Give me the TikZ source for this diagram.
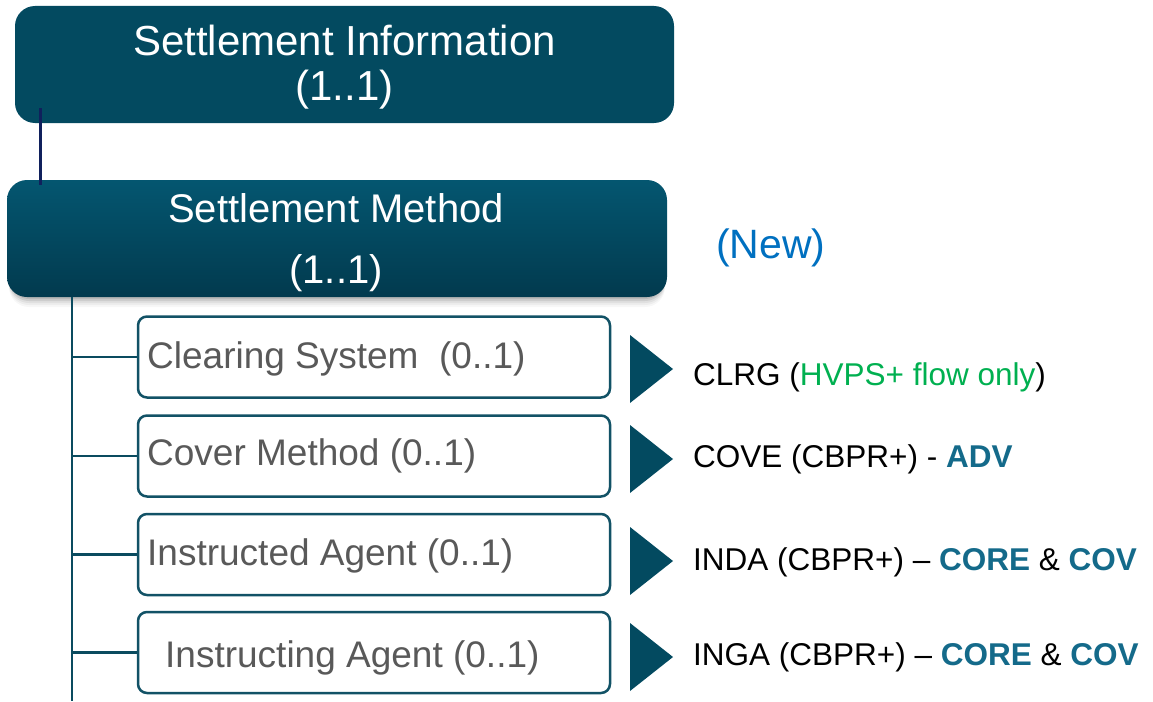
\documentclass[tikz,border=0pt]{standalone}
\usepackage{fontspec}
\setmainfont{Liberation Sans}
\usetikzlibrary{calc}

\definecolor{headfill}{RGB}{3,74,96}
\definecolor{headtop}{RGB}{4,86,112}
\definecolor{headbot}{RGB}{2,58,78}
\definecolor{linknavy}{RGB}{16,32,92}
\definecolor{treeline}{RGB}{10,75,95}
\definecolor{childedge}{RGB}{18,82,102}
\definecolor{childtext}{RGB}{89,89,89}
\definecolor{newblue}{RGB}{0,112,192}
\definecolor{flowgreen}{RGB}{0,176,80}
\definecolor{tagteal}{RGB}{20,106,138}
\definecolor{markfill}{RGB}{3,74,96}

\tikzset{
  headbox/.style={rectangle, rounded corners=20pt, inner sep=0pt},
  childbox/.style={rectangle, rounded corners=9pt, draw=childedge, line width=2.5pt,
    fill=white, inner sep=0pt, minimum width=472pt, minimum height=81pt},
  headtext/.style={inner sep=0pt, anchor=base, text=white},
  childlabel/.style={inner sep=0pt, anchor=base west, text=childtext,
    font=\fontsize{37}{44}\selectfont},
  codelabel/.style={inner sep=0pt, anchor=base west, text=black,
    font=\fontsize{31.5}{37}\selectfont},
  branch/.style={draw=treeline, line width=2.8pt},
  marker/.style={fill=markfill},
}

\begin{document}
\begin{tikzpicture}[x=1pt,y=-1pt]
\useasboundingbox (0,0) rectangle (1153,701);

% top element
\node[headbox, fill=headfill, minimum width=659pt, minimum height=117pt] (info) at (344.5,64.5) {};
\node[headtext, font=\fontsize{42}{50}\selectfont] (infoname) at (344.5,56) {Settlement Information};
\node[headtext, font=\fontsize{42}{50}\selectfont] (infomult) at (344.5,100) {(1..1)};

% soft shadow under the second element
\foreach \d/\o in {2/0.10,4/0.08,6/0.06,8/0.04,10/0.03}{
  \fill[black, opacity=\o, rounded corners=20pt] (9,{186+\d}) rectangle (665,{297+\d});
}

% second element
\node[headbox, top color=headtop, bottom color=headbot, minimum width=660pt, minimum height=117pt] (method) at (337,238.5) {};
\node[headtext, font=\fontsize{40}{47}\selectfont] (methodname) at (336,222) {Settlement Method};
\node[headtext, font=\fontsize{40}{47}\selectfont] (methodmult) at (336,283) {(1..1)};

\node[inner sep=0pt, anchor=base west, text=newblue, font=\fontsize{41}{49}\selectfont] (newtag) at (716,258) {(New)};

% link between the two upper elements
\coordinate (linktop) at (40,108);
\coordinate (linkbot) at (40,185);
\draw[draw=linknavy, line width=3pt] (linktop) -- (linkbot);

% child elements
\node[childbox] (clrg) at (374,357) {};
\node[childbox] (cove) at (374,456) {};
\node[childbox] (inda) at (374,554.5) {};
\node[childbox] (inga) at (374,652.5) {};

\node[childlabel] (clrgname) at (147,368) {Clearing System\ \ (0..1)};
\node[childlabel] (covename) at (147,465) {Cover Method (0..1)};
\node[childlabel] (indaname) at (147,565) {Instructed Agent (0..1)};
\node[childlabel] (inganame) at (165,667) {Instructing Agent (0..1)};

% tree trunk and branches
\coordinate (trunktop) at (72,297);
\coordinate (trunkend) at (72,701);
\draw[branch] (trunktop) -- (trunkend);
\foreach \c in {clrg,cove,inda,inga}{
  \draw[branch] (\c.west -| trunktop) -- (\c.west);
}

% pointer markers
\foreach \y in {369,459,561,657}{
  \fill[marker] (630,{\y-34}) -- (673,\y) -- (630,{\y+34}) -- cycle;
}

% code descriptions
\node[codelabel] (clrgcode) at (693,385) {CLRG (\textcolor{flowgreen}{HVPS+ flow only})};
\node[codelabel] (covecode) at (693,467) {COVE (CBPR+) - \textcolor{tagteal}{\bfseries ADV}};
\node[codelabel] (indacode) at (693,570) {INDA (CBPR+) – \textcolor{tagteal}{\bfseries CORE} \& \textcolor{tagteal}{\bfseries COV}};
\node[codelabel] (ingacode) at (693,665) {INGA (CBPR+) – \textcolor{tagteal}{\bfseries CORE} \& \textcolor{tagteal}{\bfseries COV}};
\end{tikzpicture}
\end{document}
